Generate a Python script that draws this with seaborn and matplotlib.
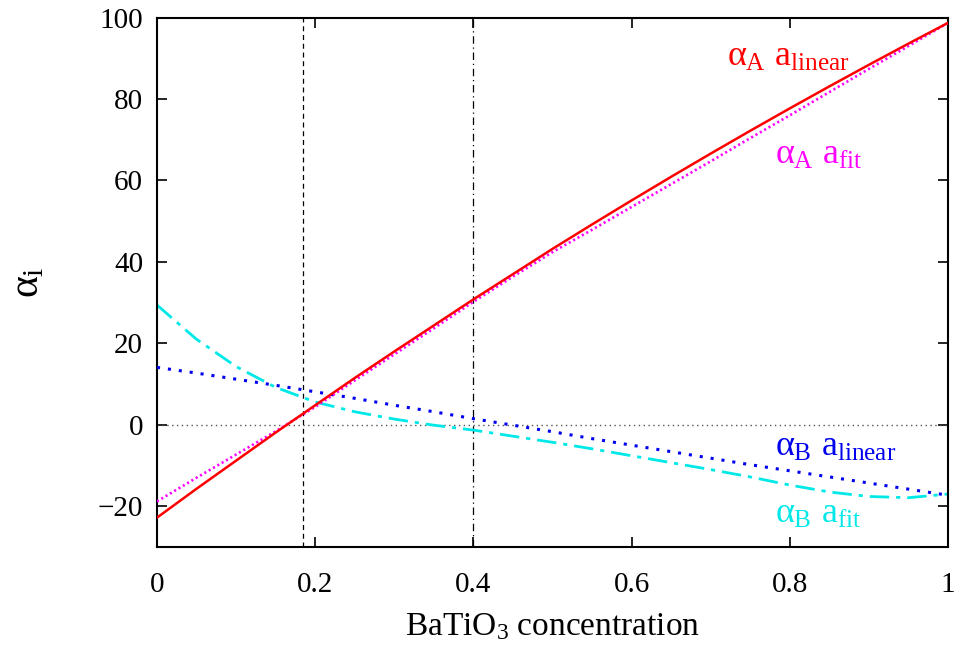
import numpy as np
import pandas as pd
import matplotlib
matplotlib.use("Agg")
import matplotlib.pyplot as plt
import seaborn as sns

# BaTiO3 concentration grid
conc = [0.0, 0.05, 0.1, 0.15, 0.2, 0.25, 0.3, 0.35, 0.4, 0.45, 0.5,
        0.55, 0.6, 0.65, 0.7, 0.75, 0.8, 0.85, 0.9, 0.95, 1.0]

# alpha_A with linear lattice parameter
alpha_A_linear = [-22.8, -15.7, -8.8, -1.9, 4.8, 11.5, 18.0, 24.4, 30.8, 37.0, 43.2,
                  49.2, 55.1, 60.9, 66.6, 72.2, 77.7, 83.1, 88.4, 93.6, 98.7]
# alpha_A with fitted lattice parameter
alpha_A_fit = [-18.8, -13.0, -7.3, -1.6, 4.4, 10.9, 17.3, 23.7, 30.2, 36.4, 42.4,
               47.9, 53.5, 59.1, 64.7, 70.4, 76.0, 81.7, 87.4, 93.0, 98.7]
# alpha_B with linear lattice parameter
alpha_B_linear = [14.1, 12.7, 11.2, 9.7, 8.1, 6.5, 4.8, 3.2, 1.5, -0.1, -1.7,
                  -3.4, -5.0, -6.6, -8.2, -9.8, -11.3, -12.8, -14.3, -15.8, -17.3]
# alpha_B with fitted lattice parameter
alpha_B_fit = [29.4, 21.0, 14.3, 9.2, 5.6, 3.2, 1.4, -0.1, -1.3, -2.8, -4.3,
               -5.9, -7.6, -9.3, -11.0, -12.8, -14.8, -16.5, -17.6, -17.9, -17.0]

# boundaries marked by vertical lines
x_marks = [0.185, 0.4]

x_ticks = [0, 0.2, 0.4, 0.6, 0.8, 1]
x_ticklabels = ["0", "0.2", "0.4", "0.6", "0.8", "1"]
y_ticks = [-20, 0, 20, 40, 60, 80, 100]
y_ticklabels = ["\u221220", "0", "20", "40", "60", "80", "100"]

sns.set_theme(style="ticks")
plt.rcParams["font.family"] = ["Liberation Serif", "DejaVu Serif"]
plt.rcParams["mathtext.fontset"] = "custom"
plt.rcParams["mathtext.rm"] = "Liberation Serif"
plt.rcParams["mathtext.it"] = "Liberation Serif"
plt.rcParams["mathtext.bf"] = "Liberation Serif:bold"
for key in ["text.color", "axes.labelcolor", "xtick.color", "ytick.color",
            "axes.edgecolor"]:
    plt.rcParams[key] = "black"

fig = plt.figure(figsize=(9.55, 6.5), dpi=100)
ax = fig.add_axes([0.1644, 0.1585, 0.9927 - 0.1644, 0.973 - 0.1585])

df = pd.DataFrame({
    "conc": conc,
    "A_lin": alpha_A_linear,
    "A_fit": alpha_A_fit,
    "B_lin": alpha_B_linear,
    "B_fit": alpha_B_fit,
})

# reference lines
ax.axhline(0, color="#555555", lw=1.0, linestyle=(0, (1, 2.5)), zorder=1)
ax.axvline(x_marks[0], color="black", lw=0.9, linestyle=(0, (4, 3)), zorder=1)
ax.axvline(x_marks[1], color="black", lw=0.9, linestyle=(0, (6, 3, 1, 3)), zorder=1)

sns.lineplot(data=df, x="conc", y="B_fit", ax=ax, color="#00e8e8", lw=2.0,
             linestyle=(0, (7, 2.5, 1.5, 2.5)), zorder=2)
sns.lineplot(data=df, x="conc", y="B_lin", ax=ax, color="#0000ee", lw=2.2,
             linestyle=(0, (1.0, 2.6)), zorder=3)
sns.lineplot(data=df, x="conc", y="A_fit", ax=ax, color="#ff00ff", lw=1.9,
             linestyle=(0, (0.8, 1.1)), zorder=3)
sns.lineplot(data=df, x="conc", y="A_lin", ax=ax, color="#ff0000", lw=1.8,
             linestyle="-", zorder=4)

fs_lab = 26
ax.text(0.72, 88.1, r"$\alpha_{\mathrm{A}}\ a_{\mathrm{linear}}$", color="#ff0000",
        fontsize=fs_lab, ha="left", va="baseline")
ax.text(0.781, 64.1, r"$\alpha_{\mathrm{A}}\ a_{\mathrm{fit}}$", color="#ff00ff",
        fontsize=fs_lab, ha="left", va="baseline")
ax.text(0.781, -7.6, r"$\alpha_{\mathrm{B}}\ a_{\mathrm{linear}}$", color="#0000ee",
        fontsize=fs_lab, ha="left", va="baseline")
ax.text(0.781, -24.0, r"$\alpha_{\mathrm{B}}\ a_{\mathrm{fit}}$", color="#00e8e8",
        fontsize=fs_lab, ha="left", va="baseline")

fs = 21
ax.set_xlim(0, 1)
ax.set_ylim(-30, 100)
ax.set_xticks(x_ticks)
ax.set_xticklabels(x_ticklabels)
ax.set_yticks(y_ticks)
ax.set_yticklabels(y_ticklabels)
ax.tick_params(direction="in", length=7, width=1.2, labelsize=fs, color="black",
               labelcolor="black", top=True, right=True)
ax.tick_params(axis="x", pad=18)
ax.tick_params(axis="y", pad=10)
for s in ax.spines.values():
    s.set_visible(True)
    s.set_linewidth(1.5)
    s.set_color("black")

ax.set_xlabel(r"BaTiO$_3$ concentration", fontsize=24, labelpad=10)
ax.set_ylabel(r"$\alpha_{\mathrm{i}}$", fontsize=30, labelpad=36)
ax.set_facecolor("white")
fig.patch.set_facecolor("white")

fig.savefig("out.png", dpi=100, facecolor="white")
